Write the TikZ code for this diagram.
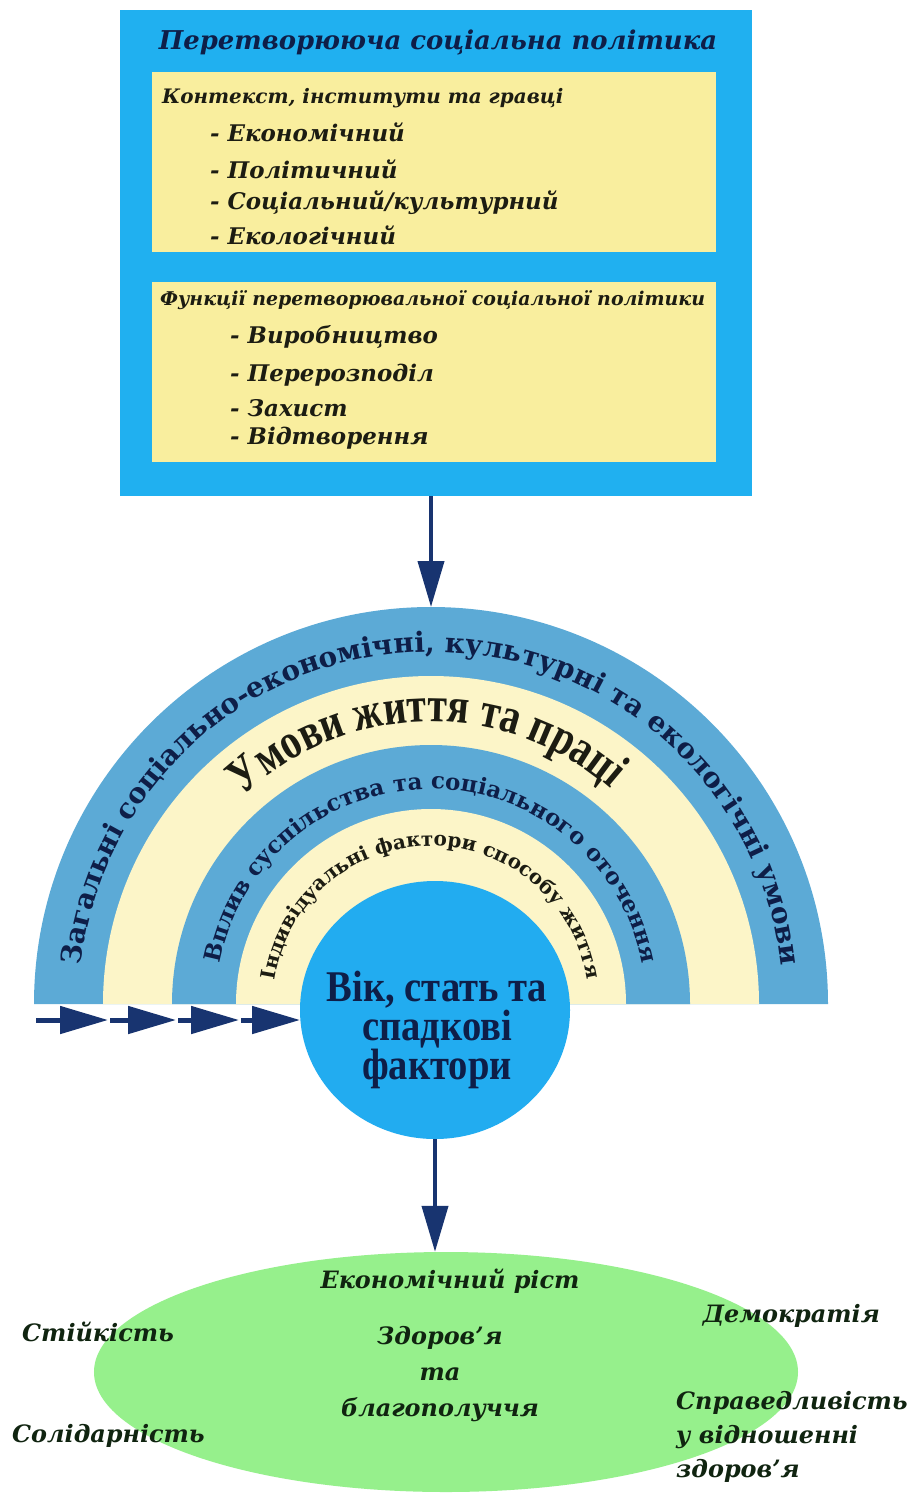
\documentclass[tikz,border=0pt]{standalone}
\usepackage{fontspec}
\setmainfont{DejaVu Serif}
\newfontfamily\narrowserif[FakeStretch=0.8]{Liberation Serif}
\newfontfamily\coreserif[FakeStretch=0.88]{Liberation Serif}
\usetikzlibrary{arrows.meta,shapes.geometric,decorations.text}

\definecolor{policyblue}{RGB}{32,176,240}
\definecolor{boxyellow}{RGB}{249,238,158}
\definecolor{bandblue}{RGB}{92,170,214}
\definecolor{bandcream}{RGB}{252,245,200}
\definecolor{coreblue}{RGB}{34,172,240}
\definecolor{goalgreen}{RGB}{150,240,140}
\definecolor{arrownavy}{RGB}{24,52,112}
\definecolor{inknavy}{RGB}{14,30,72}
\definecolor{inkdark}{RGB}{28,28,18}
\definecolor{goalink}{RGB}{16,36,16}

\begin{document}
\begin{tikzpicture}[x=1bp,y=-1bp,>={Triangle[length=46bp,width=26bp]},
  flow/.style={->,line width=4bp,draw=arrownavy},
  feed/.style={-{Triangle[length=48bp,width=27bp]},line width=5bp,draw=arrownavy,shorten >=2bp},
  panel/.style={fill=boxyellow,minimum width=564bp,minimum height=180bp,anchor=north west,inner sep=0pt},
  heading/.style={anchor=west,inner sep=0pt,text=inkdark,font=\fontsize{20}{24}\selectfont\bfseries\itshape},
  item/.style={anchor=west,inner sep=0pt,text=inkdark,font=\fontsize{23}{27}\selectfont\bfseries\itshape},
  goal/.style={inner sep=0pt,text=goalink,font=\fontsize{24}{35}\selectfont\bfseries\itshape}]
\useasboundingbox[fill=white] (0,0) rectangle (912,1494);

% policy block
\node[fill=policyblue,minimum width=632bp,minimum height=486bp,anchor=north west,inner sep=0pt] (policy) at (120,10) {};
\node[inner sep=0pt,text=inknavy,font=\fontsize{26}{30}\selectfont\bfseries\itshape] (title) at (438,42) {Перетворююча соціальна політика};
\node[panel] (context) at (152,72) {};
\node[panel] (functions) at (152,282) {};
\node[heading] (ctxhead) at (162,98) {Контекст, інститути та гравці};
\node[item] (econ) at (210,132) {- Економічний};
\node[item] (polit) at (210,169) {- Політичний};
\node[item] (social) at (210,203) {- Соціальний/культурний};
\node[item] (ecol) at (210,235) {- Екологічний};
\node[heading,font=\fontsize{19}{22}\selectfont\bfseries\itshape] (funchead) at (160,300) {Функції перетворювальної соціальної політики};
\node[item] (prod) at (230,337) {- Виробництво};
\node[item] (redis) at (230,375) {- Перерозподіл};
\node[item] (prot) at (230,408) {- Захист};
\node[item] (repro) at (230,438) {- Відтворення};

% rainbow of determinants
\begin{scope}[shift={(431,1004)},yscale=-1]
\fill[bandblue] (-397,0) arc[start angle=180,end angle=0,radius=397] -- cycle;
\fill[bandcream] (-328,0) arc[start angle=180,end angle=0,radius=328] -- cycle;
\fill[bandblue] (-259,0) arc[start angle=180,end angle=0,radius=259] -- cycle;
\fill[bandcream] (-195,0) arc[start angle=180,end angle=0,radius=195] -- cycle;
\coordinate (archtop) at (0,397);
\path[decorate,decoration={text along path,text align=center,text color=inknavy,
  text={|\fontsize{28}{28}\selectfont\bfseries|Загальні соціально-економічні, культурні та екологічні умови}}]
  (-352,0) arc[start angle=180,end angle=0,radius=352];
\path[decorate,decoration={text along path,text align=center,text color=inkdark,
  text={|\fontsize{50}{50}\narrowserif\bfseries|Умови життя та праці}}]
  (-273,0) arc[start angle=182,end angle=0,radius=273];
\path[decorate,decoration={text along path,text align=center,text color=inknavy,
  text={|\fontsize{23}{23}\selectfont\bfseries|Вплив суспільства та соціального оточення}}]
  (-215,0) arc[start angle=180,end angle=0,radius=215];
\path[decorate,decoration={text along path,text align=center,text color=inkdark,
  text={|\fontsize{20}{20}\selectfont\bfseries|Індивідуальні фактори способу життя}}]
  (-158,0) arc[start angle=180,end angle=0,radius=158];
\end{scope}

% core circle
\node[ellipse,fill=coreblue,minimum width=270bp,minimum height=258bp,inner sep=0pt] (core) at (435,1010) {};
\node[align=center,inner sep=0pt,text=inknavy,font=\fontsize{44}{37}\coreserif\bfseries] (corelabel) at (437,1030) {Вік, стать та\\спадкові\\фактори};

% outcomes
\node[ellipse,fill=goalgreen,minimum width=704bp,minimum height=240bp,inner sep=0pt] (goals) at (446,1372) {};
\node[goal] (growth) at (450,1281) {Економічний ріст};
\node[goal,align=center,font=\fontsize{24}{36}\selectfont\bfseries\itshape] (health) at (440,1374) {Здоров’я\\та\\благополуччя};
\node[goal,anchor=west] (sustain) at (22,1332) {Стійкість};
\node[goal,anchor=west] (solid) at (12,1436) {Солідарність};
\node[goal,anchor=east] (democ) at (880,1316) {Демократія};
\node[goal,anchor=west,align=left,font=\fontsize{24}{34}\selectfont\bfseries\itshape] (equity) at (676,1437) {Справедливість\\у відношенні\\здоров’я};

% arrows
\draw[flow] (archtop |- policy.south) -- (archtop);
\coordinate (p0) at (36,1020);
\coordinate (p1) at (110,1020);
\coordinate (p2) at (178,1020);
\coordinate (p3) at (241,1020);
\coordinate (p4) at (302,1020);
\draw[feed] (p0) -- (p1);
\draw[feed] (p1) -- (p2);
\draw[feed] (p2) -- (p3);
\draw[feed] (p3) -- (p4);
\draw[flow] (core.south) -- (core.south |- goals.north);
\end{tikzpicture}
\end{document}
